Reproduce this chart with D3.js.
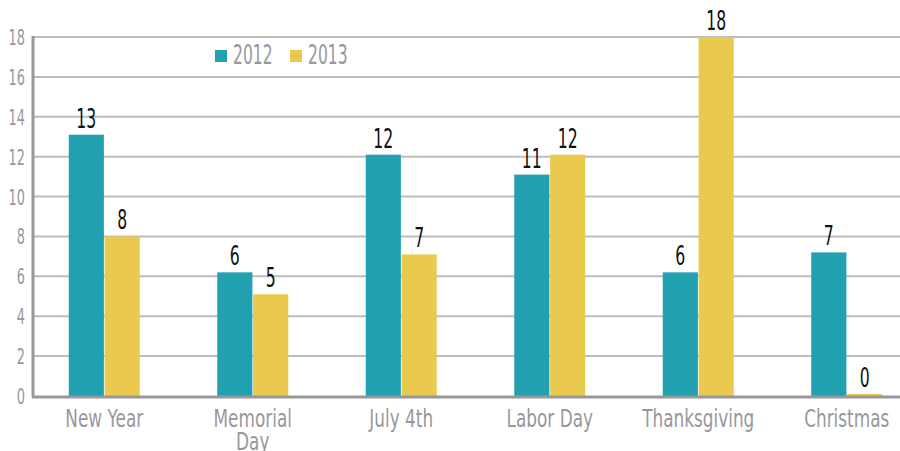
<!DOCTYPE html>
<html lang="en">
  <head>
    <title>Holiday counts 2012 vs 2013</title>
    <meta charset="utf-8">
    <script src="https://d3js.org/d3.v7.min.js"></script>
    <style>
      body { margin: 0; background: #fff; }
      text { font-family: "DejaVu Sans", sans-serif; }
    </style>
  </head>
  <body>
    <svg></svg>

    <script>
      // dados
      const categories = ['New Year', 'Memorial Day', 'July 4th', 'Labor Day', 'Thanksgiving', 'Christmas']
      const series = ['2012', '2013']
      const values2012 = [13.1, 6.2, 12.1, 11.1, 6.2, 7.2]
      const values2013 = [8, 5.1, 7.1, 12.1, 18, 0.1]
      const yTicks = [0, 2, 4, 6, 8, 10, 12, 14, 16, 18]
      const colors = ['#21a0b0', '#eac94f']

      const width = 900, height = 451
      const cinza = '#98989c'

      // comprime o texto na horizontal (imita uma fonte condensada)
      function squeeze(sel, k) {
        sel.attr('transform', function () {
          const x = +d3.select(this).attr('x')
          return `translate(${x},0) scale(${k},1) translate(${-x},0)`
        })
      }

      const svg = d3.select('svg')
        .attr('width', width)
        .attr('height', height)

      const x0 = d3.scaleBand()
        .domain(categories)
        .range([30, 921])
        .paddingInner(0.522)
        .paddingOuter(0.261)

      const x1 = d3.scaleBand()
        .domain(series)
        .range([0, x0.bandwidth()])
        .paddingInner(0.02)

      const y = d3.scaleLinear()
        .domain([0, 18])
        .range([396, 37])

      const color = d3.scaleOrdinal().domain(series).range(colors)

      // linhas de grade
      svg.append('g')
        .selectAll('line')
        .data(yTicks.filter(d => d > 0))
        .join('line')
          .attr('x1', 33)
          .attr('x2', width)
          .attr('y1', d => y(d))
          .attr('y2', d => y(d))
          .attr('stroke', '#bdbdbd')
          .attr('stroke-width', 2)

      // rótulos do eixo y
      svg.append('g')
        .selectAll('text')
        .data(yTicks)
        .join('text')
          .attr('x', 25)
          .attr('y', d => y(d) + 8)
          .attr('text-anchor', 'end')
          .attr('fill', cinza)
          .style('font-size', '21.5px')
          .text(d => d)
          .call(squeeze, 0.6)

      // barras
      const data = categories.map((c, i) => ({ cat: c, vals: [values2012[i], values2013[i]] }))

      const groups = svg.append('g')
        .selectAll('g')
        .data(data)
        .join('g')
          .attr('transform', d => `translate(${x0(d.cat)}, 0)`)

      groups.selectAll('rect')
        .data(d => d.vals.map((v, j) => ({ key: series[j], v })))
        .join('rect')
          .attr('x', d => x1(d.key))
          .attr('y', d => y(d.v))
          .attr('width', x1.bandwidth())
          .attr('height', d => y(0) - y(d.v))
          .attr('fill', d => color(d.key))

      groups.selectAll('text.valor')
        .data(d => d.vals.map((v, j) => ({ key: series[j], v })))
        .join('text')
          .attr('class', 'valor')
          .attr('x', d => x1(d.key) + x1.bandwidth() / 2)
          .attr('y', d => y(d.v) - 7)
          .attr('text-anchor', 'middle')
          .attr('fill', '#111')
          .style('font-size', '27px')
          .text(d => d3.format('.0f')(d.v))
          .call(squeeze, 0.58)

      // linhas dos eixos
      svg.append('line')
        .attr('x1', 33).attr('x2', 33)
        .attr('y1', 36).attr('y2', 397)
        .attr('stroke', cinza).attr('stroke-width', 3)
      svg.append('line')
        .attr('x1', 32).attr('x2', width)
        .attr('y1', 397).attr('y2', 397)
        .attr('stroke', cinza).attr('stroke-width', 3)

      // rótulos das categorias (Memorial Day em duas linhas)
      svg.append('g')
        .selectAll('text')
        .data(categories)
        .join('text')
          .attr('x', d => x0(d) + x0.bandwidth() / 2)
          .attr('y', 427)
          .attr('text-anchor', 'middle')
          .attr('fill', cinza)
          .style('font-size', '24.5px')
          .each(function (d) {
            const words = d === 'Memorial Day' ? ['Memorial', 'Day'] : [d]
            d3.select(this).selectAll('tspan')
              .data(words)
              .join('tspan')
                .attr('x', x0(d) + x0.bandwidth() / 2)
                .attr('dy', (w, i) => i === 0 ? 0 : 23)
                .text(w => w)
          })
          .call(squeeze, 0.69)

      // legenda
      const legend = svg.append('g')
        .selectAll('g')
        .data(series)
        .join('g')
          .attr('transform', (d, i) => `translate(${215 + i * 75}, 50)`)

      legend.append('rect')
        .attr('width', 12)
        .attr('height', 12)
        .attr('fill', d => color(d))

      legend.append('text')
        .attr('x', 18)
        .attr('y', 14)
        .attr('fill', cinza)
        .style('font-size', '26px')
        .text(d => d)
        .call(squeeze, 0.6)
    </script>
  </body>
</html>
